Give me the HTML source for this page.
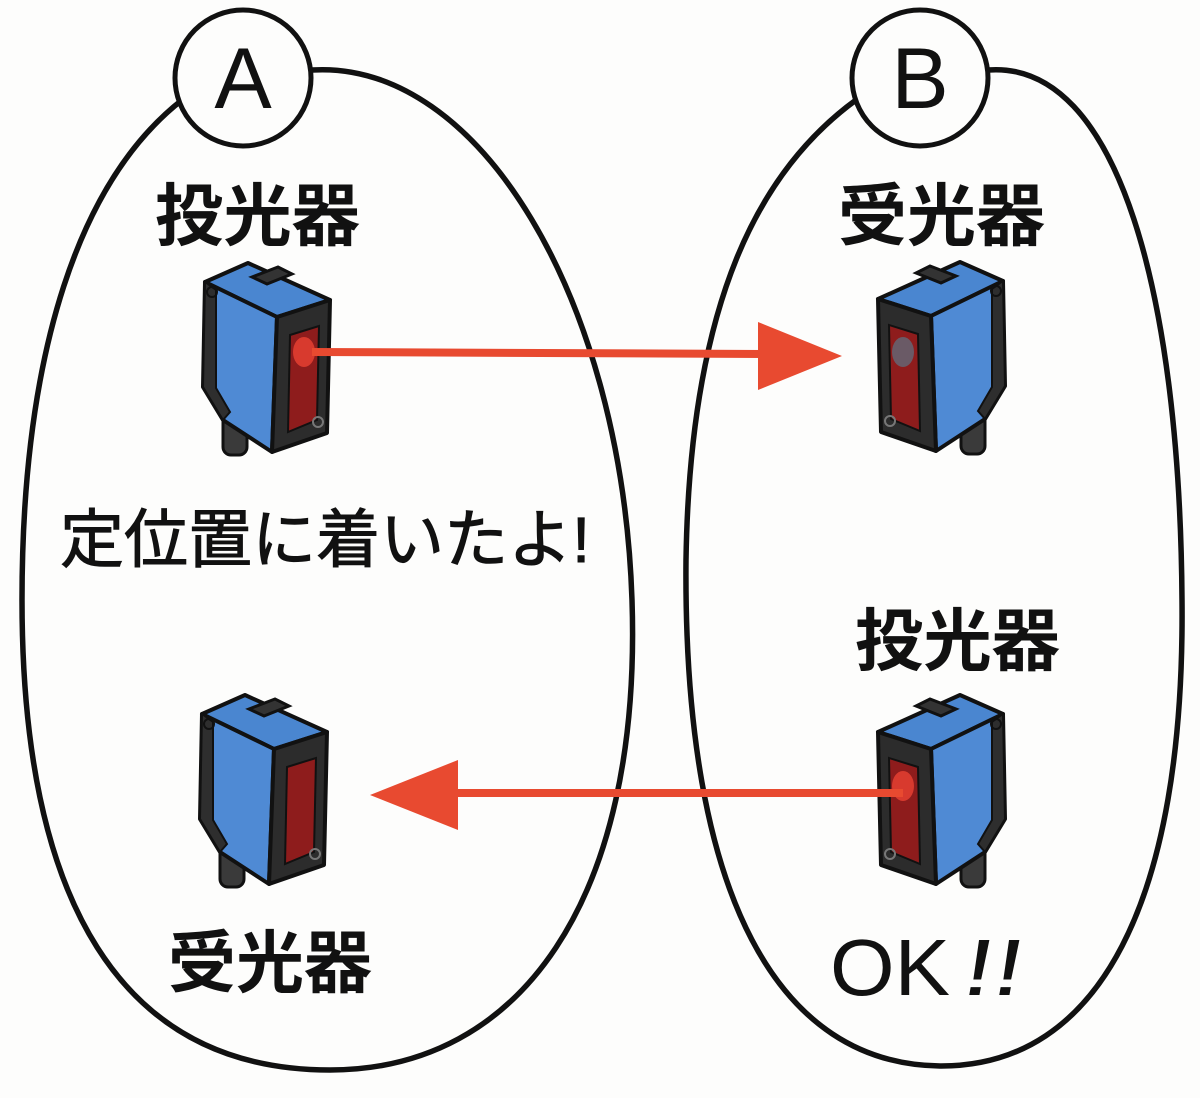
<!DOCTYPE html>
<html><head><meta charset="utf-8"><style>
html,body{margin:0;padding:0;background:#fdfdfc;}
svg{display:block}
.lbl{font-family:"Liberation Sans","Noto Sans CJK JP",sans-serif;font-weight:bold;font-size:68px;fill:#111}
.hand{font-family:"Liberation Sans","Noto Sans CJK JP",sans-serif;font-size:64px;fill:#111;stroke:#111;stroke-width:1}
</style></head><body>
<svg width="1200" height="1098" viewBox="0 0 1200 1098" xmlns="http://www.w3.org/2000/svg">
<defs>
<g id="sensor">
  <rect x="33" y="150" width="24" height="45" rx="8" fill="#3a3a3a" stroke="#111" stroke-width="3"/>
  <polygon points="15,22 58,3 140,40 87,57" fill="#4a86d0" stroke="#111" stroke-width="4" stroke-linejoin="round"/>
  <polygon points="15,22 87,57 82,192 33,160 13,127" fill="#4f8ad4" stroke="#111" stroke-width="4" stroke-linejoin="round"/>
  <polygon points="15,22 26,30 26,128 40,152 33,160 13,127" fill="#2e2e2e" stroke="#111" stroke-width="2"/>
  <circle cx="22" cy="32" r="5" fill="none" stroke="#111" stroke-width="2"/>
  <polygon points="62,17 88,7 102,14 77,24" fill="#333" stroke="#111" stroke-width="3"/>
  <polygon points="87,57 140,40 137,173 82,192" fill="#2c2c2c" stroke="#111" stroke-width="4" stroke-linejoin="round"/>
  <polygon points="100,75 129,66 127,160 98,172" fill="#8e1c1c" stroke="#111" stroke-width="2"/>
  <circle cx="128" cy="162" r="5" fill="none" stroke="#777" stroke-width="2"/>
</g>
</defs>
<path d="M312,70 C480,60 622,300 632,600 C642,900 520,1070 330,1070 C120,1070 22,900 22,600 C22,350 80,180 182,100" fill="none" stroke="#111" stroke-width="5.5"/>
<path d="M988,70 C1120,60 1180,300 1182,600 C1185,900 1100,1067 940,1066 C780,1064 683,900 686,560 C690,300 760,170 856,100" fill="none" stroke="#111" stroke-width="5.5"/>
<circle cx="243" cy="78" r="68" fill="#fdfdfc" stroke="#111" stroke-width="5"/>
<circle cx="920" cy="78" r="68" fill="#fdfdfc" stroke="#111" stroke-width="5"/>
<text x="243" y="108" text-anchor="middle" font-family="Liberation Sans,sans-serif" font-size="86" fill="#111">A</text>
<text x="920" y="108" text-anchor="middle" font-family="Liberation Sans,sans-serif" font-size="86" fill="#111">B</text>
<text class="lbl" x="155" y="240" textLength="205" lengthAdjust="spacingAndGlyphs">投光器</text>
<text class="lbl" x="838" y="240" textLength="207" lengthAdjust="spacingAndGlyphs">受光器</text>
<text class="lbl" x="855" y="665" textLength="205" lengthAdjust="spacingAndGlyphs">投光器</text>
<text class="lbl" x="168" y="987" textLength="204" lengthAdjust="spacingAndGlyphs">受光器</text>
<text class="hand" x="60" y="562" textLength="530" lengthAdjust="spacingAndGlyphs">定位置に着いたよ!</text>
<text x="830" y="995" font-family="Liberation Sans,sans-serif" font-size="80" fill="#111" textLength="120" lengthAdjust="spacingAndGlyphs">OK</text>
<text x="960" y="995" font-family="Liberation Sans,sans-serif" font-size="80" fill="#111" transform="skewX(-10) translate(175,0)" textLength="60" lengthAdjust="spacingAndGlyphs">!!</text>
<use href="#sensor" transform="translate(190,260)"/>
<ellipse cx="304" cy="352" rx="11" ry="15" fill="#d83a2e"/>
<use href="#sensor" transform="translate(1018,259) scale(-1,1)"/>
<ellipse cx="903" cy="352" rx="11" ry="15" fill="#6a5a66"/>
<use href="#sensor" transform="translate(187,692)"/>
<use href="#sensor" transform="translate(1018,692) scale(-1,1)"/>
<ellipse cx="903" cy="786" rx="11" ry="15" fill="#d83a2e"/>
<line x1="312" y1="352" x2="765" y2="354" stroke="#e84a30" stroke-width="8"/>
<polygon points="758,322 842,356 758,390" fill="#e84a30"/>
<line x1="903" y1="793" x2="450" y2="793" stroke="#e84a30" stroke-width="8"/>
<polygon points="458,760 370,795 458,830" fill="#e84a30"/>
</svg>
</body></html>
